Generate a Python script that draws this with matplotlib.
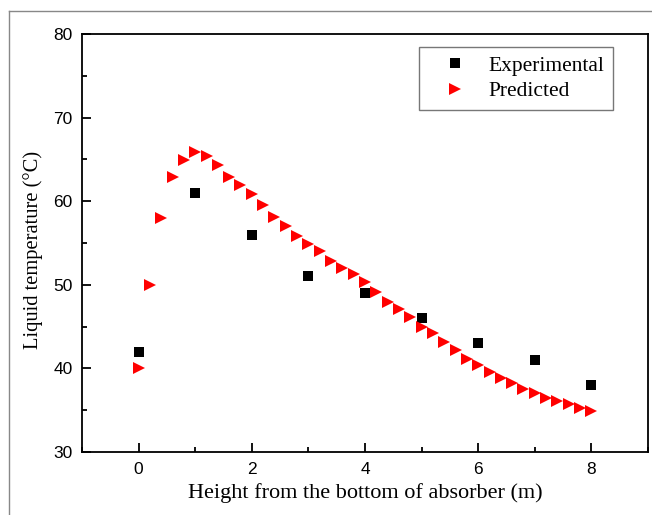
import numpy as np
import matplotlib
matplotlib.use("Agg")
import matplotlib.pyplot as plt
from matplotlib.lines import Line2D
from matplotlib.ticker import MultipleLocator

exp_x = [0, 1, 2, 3, 4, 5, 6, 7, 8]
exp_y = [42, 61, 56, 51, 49, 46, 43, 41, 38]

pred_x = [0.0, 0.2, 0.4, 0.6, 0.8, 1.0, 1.2, 1.4, 1.6, 1.8, 2.0, 2.2, 2.4, 2.6, 2.8,
          3.0, 3.2, 3.4, 3.6, 3.8, 4.0, 4.2, 4.4, 4.6, 4.8, 5.0, 5.2, 5.4, 5.6, 5.8,
          6.0, 6.2, 6.4, 6.6, 6.8, 7.0, 7.2, 7.4, 7.6, 7.8, 8.0]
pred_y = [40.0, 50.0, 58.0, 62.9, 64.9, 65.9, 65.4, 64.3, 62.9, 61.9, 60.9, 59.5, 58.1,
          57.0, 55.8, 54.9, 54.0, 52.8, 52.0, 51.3, 50.3, 49.1, 47.9, 47.1, 46.1, 45.0,
          44.2, 43.1, 42.2, 41.1, 40.4, 39.6, 38.9, 38.2, 37.5, 37.0, 36.5, 36.1, 35.7,
          35.3, 34.9]

xticks = [0, 2, 4, 6, 8]
yticks = [30, 40, 50, 60, 70, 80]

serif = "Liberation Serif"
sans = "Liberation Sans"

fig = plt.figure(figsize=(6.52, 5.15), dpi=100)
ax = fig.add_axes([82/652, 63/515, (648-82)/652, (452-34)/515])

ax.plot(exp_x, exp_y, linestyle="none", marker="s", ms=6.6, color="black",
        markeredgewidth=0, label="Experimental")
ax.plot(pred_x, pred_y, linestyle="none", marker=">", ms=8.3, color="#ff0000",
        markeredgewidth=0, label="Predicted")

ax.set_xlim(-1, 9)
ax.set_ylim(30, 80)
ax.set_xticks(xticks)
ax.set_yticks(yticks)
ax.xaxis.set_minor_locator(MultipleLocator(1))
ax.yaxis.set_minor_locator(MultipleLocator(5))
ax.tick_params(which="both", direction="in", top=False, right=False, width=1.3)
ax.tick_params(which="major", length=6.3)
ax.tick_params(which="minor", length=3.8)
ax.tick_params(axis="y", which="major", pad=6.8)
ax.tick_params(axis="x", which="major", pad=7.5)
for lab in ax.get_xticklabels() + ax.get_yticklabels():
    lab.set_fontfamily(sans)
    lab.set_fontsize(12.5)
for s in ax.spines.values():
    s.set_linewidth(1.3)

ax.set_xlabel("Height from the bottom of absorber (m)", fontfamily=serif, fontsize=16)
ax.xaxis.set_label_coords(0.5, (452 - 483) / 418)
ax.set_ylabel("Liquid temperature (\u00b0C)", fontfamily=serif, fontsize=14.8)
ax.yaxis.set_label_coords((43 - 82) / 566, (452 - 250) / 418)

leg = ax.legend(loc="upper right", frameon=True,
                prop={"family": serif, "size": 15.5}, handletextpad=0.25, borderpad=0.4,
                labelspacing=0.25, handlelength=2.6, fancybox=False, borderaxespad=0)
leg.set_bbox_to_anchor(((613 - 82) / (648 - 82), (452 - 47) / (452 - 34)), transform=ax.transAxes)
leg.get_frame().set_edgecolor("#555555")
leg.get_frame().set_linewidth(1.0)

# figure frame lines (top and left) as in the reference crop
fig.add_artist(Line2D([9/652, 1], [1 - 10.5/515, 1 - 10.5/515], transform=fig.transFigure,
                      color="#888888", lw=1.0))
fig.add_artist(Line2D([9/652, 9/652], [0, 1 - 10.5/515], transform=fig.transFigure,
                      color="#888888", lw=1.0))

fig.savefig("out.png", dpi=100)
